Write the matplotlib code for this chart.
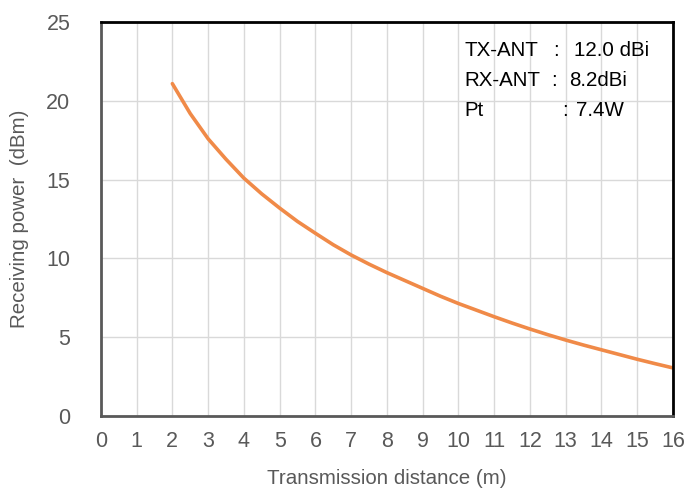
import matplotlib.pyplot as plt

distance = [2, 2.5, 3, 3.5, 4, 4.5, 5, 5.5, 6, 6.5, 7, 7.5, 8, 8.5, 9, 9.5,
            10, 10.5, 11, 11.5, 12, 12.5, 13, 13.5, 14, 14.5, 15, 15.5, 16]
power = [21.1, 19.2, 17.6, 16.3, 15.1, 14.1, 13.2, 12.35, 11.6, 10.87, 10.22, 9.64,
         9.1, 8.6, 8.1, 7.6, 7.14, 6.72, 6.3, 5.9, 5.52, 5.16, 4.82, 4.5, 4.2, 3.9,
         3.6, 3.32, 3.05]

x_ticks = list(range(0, 17))
y_ticks = [0, 5, 10, 15, 20, 25]

info_rows = [("TX-ANT", 12.66, "12.0 dBi", 13.23),
             ("RX-ANT", 12.60, "8.2dBi", 13.09),
             ("Pt", 12.90, "7.4W", 13.30)]

plt.rcParams['font.family'] = ['Liberation Sans', 'DejaVu Sans']

fig = plt.figure(figsize=(6.86, 4.94), dpi=100)
ax = fig.add_axes([0.147, 0.158, 0.834, 0.797])

ax.plot(distance, power, color='#f08a48', linewidth=2.6, solid_capstyle='round')

ax.set_xlim(0, 16)
ax.set_ylim(0, 25)
ax.set_xticks(x_ticks)
ax.set_yticks(y_ticks)
ax.grid(True, color='#d9d9d9', linewidth=1)
ax.set_axisbelow(True)
ax.tick_params(length=0, labelsize=15.5, labelcolor='#595959')
ax.tick_params(axis='x', pad=11)
ax.tick_params(axis='y', pad=22)

for side in ['top', 'right']:
    ax.spines[side].set_color('black')
    ax.spines[side].set_linewidth(2)
for side in ['left', 'bottom']:
    ax.spines[side].set_color('#595959')
    ax.spines[side].set_linewidth(2)

ax.set_xlabel('Transmission distance (m)', fontsize=14.8, color='#595959', labelpad=12)
ax.set_ylabel('Receiving power  (dBm)', fontsize=14.8, color='#595959', labelpad=12)

y0 = 23.2
for i, (name, colon_x, value, value_x) in enumerate(info_rows):
    yy = y0 - i * 1.9
    ax.text(10.18, yy, name, fontsize=14.8, va='center', color='black')
    ax.text(colon_x, yy, ':', fontsize=14.8, va='center', color='black')
    ax.text(value_x, yy, value, fontsize=14.8, va='center', color='black')

fig.savefig('out.png', dpi=100)
